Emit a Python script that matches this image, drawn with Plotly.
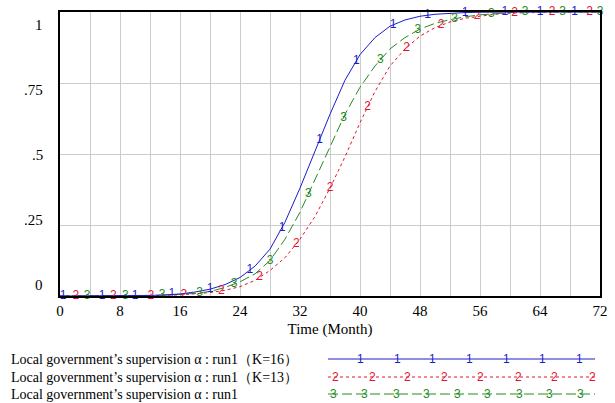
import numpy as np
import plotly.graph_objects as go

# ---------------- data ----------------
time = list(range(0, 73, 2))
k16 = [0, 0, 0, 0, 0.001, 0.001, 0.002, 0.004, 0.007, 0.014, 0.024, 0.04, 0.065, 0.105,
       0.165, 0.26, 0.38, 0.51, 0.64, 0.76, 0.85, 0.91, 0.95, 0.972, 0.985, 0.992, 0.996,
       0.998, 0.999, 1, 1, 1, 1, 1, 1, 1, 1]
k13 = [0, 0, 0, 0, 0, 0, 0, 0.002, 0.004, 0.007, 0.012, 0.02, 0.033, 0.055, 0.09, 0.135,
       0.20, 0.28, 0.38, 0.49, 0.61, 0.72, 0.81, 0.87, 0.915, 0.945, 0.965, 0.978, 0.986,
       0.992, 0.996, 0.998, 1, 1, 1, 1, 1]
base = [0, 0, 0, 0, 0.001, 0.001, 0.002, 0.003, 0.005, 0.009, 0.016, 0.03, 0.05, 0.078,
        0.125, 0.20, 0.295, 0.41, 0.525, 0.64, 0.735, 0.81, 0.87, 0.91, 0.94, 0.96, 0.973,
        0.983, 0.99, 0.995, 0.998, 1, 1, 1, 1, 1, 1]

series_names = ["Local government’s supervision α : run1（K=16）",
                "Local government’s supervision α : run1（K=13）",
                "Local government’s supervision α : run1"]
series_ids = ["1", "2", "3"]

# times along each curve where the run number is printed
mark_t1 = [0.4, 5.6, 10, 14.9, 20, 25.3, 29.6, 34.6, 39.5, 44.4, 49, 54, 59.3, 64, 68.6]
mark_t2 = [2.1, 7.1, 12.1, 16.5, 21.5, 26.6, 31.5, 36, 41, 46.2, 50.8, 55.6, 60.6, 65.6, 70.6]
mark_t3 = [3.6, 8.7, 13.6, 18.6, 23.2, 28, 33.1, 37.8, 42.7, 47.7, 52.6, 57.5, 62, 67, 72]

x_grid_ticks = list(range(0, 73, 4))
x_tick_text = [str(v) if v % 8 == 0 else "" for v in x_grid_ticks]
y_ticks = [0, 0.25, 0.5, 0.75, 1]
y_tick_text = ["0", ".25", ".5", ".75", "1"]

# ---------------- style ----------------
colors = ["#1c1ccc", "#e3122e", "#238c23"]
dashes = ["solid", "3px,3px", "10px,4px"]
serif = "Liberation Serif, Times New Roman, serif"
sans = "Liberation Sans, Arial, sans-serif"

fig = go.Figure()
all_series = [k16, k13, base]
all_marks = [mark_t1, mark_t2, mark_t3]

for idx in [1, 2, 0]:
    fig.add_trace(go.Scatter(x=time, y=all_series[idx], mode="lines",
                             line=dict(color=colors[idx], width=1, dash=dashes[idx]),
                             name=series_names[idx], hoverinfo="skip"))
for idx in [1, 2, 0]:
    mt = all_marks[idx]
    fig.add_trace(go.Scatter(x=mt, y=np.interp(mt, time, all_series[idx]), mode="text",
                             text=[series_ids[idx]] * len(mt), textposition="middle center",
                             textfont=dict(family=sans, size=12, color=colors[idx]),
                             cliponaxis=False, showlegend=False, hoverinfo="skip"))

L, R, T, B = 60, 7, 12, 107
W, H = 615, 403
pw, ph = W - L - R, H - T - B

def px_x(p):
    return (p - L) / pw

def px_y(p):
    return (H - B - p) / ph

annotations = []
for v, txt in zip(y_ticks, y_tick_text):
    annotations.append(dict(x=0, xref="paper", y=v, yref="y", text=txt, showarrow=False,
                            xanchor="right", xshift=-15, yshift=11 - 24 * v,
                            font=dict(family=serif, size=15, color="black")))

shapes = []
row_y = [359, 377, 394]
legend_num_px = [
    [365, 402, 438, 476, 513, 550, 587],
    [340, 377, 413, 450, 487, 525, 562, 600],
    [338, 369, 401, 432, 463, 494, 526, 557, 588],
]
for i in range(3):
    annotations.append(dict(x=px_x(8), xref="paper", y=px_y(row_y[i]), yref="paper",
                            text=series_names[i], showarrow=False, xanchor="left",
                            yanchor="middle", font=dict(family=serif, size=14, color="black")))
    shapes.append(dict(type="line", xref="paper", yref="paper", x0=px_x(332), x1=px_x(603),
                       y0=px_y(row_y[i]), y1=px_y(row_y[i]),
                       line=dict(color=colors[i], width=1, dash=dashes[i])))
    for p in legend_num_px[i]:
        annotations.append(dict(x=px_x(p), xref="paper", y=px_y(row_y[i]), yref="paper",
                                text=series_ids[i], showarrow=False, xanchor="center",
                                yanchor="middle",
                                font=dict(family=sans, size=12, color=colors[i])))

fig.update_layout(
    width=W, height=H,
    margin=dict(l=L, r=R, t=T, b=B, pad=0),
    paper_bgcolor="white", plot_bgcolor="white",
    showlegend=False,
    annotations=annotations, shapes=shapes,
    xaxis=dict(range=[0, 72], tickvals=x_grid_ticks, ticktext=x_tick_text,
               showgrid=True, gridcolor="#cccccc", gridwidth=1, zeroline=False,
               showline=True, linecolor="black", linewidth=2, mirror=True, ticks="",
               tickfont=dict(family=serif, size=15, color="black"),
               title=dict(text="Time (Month)", standoff=5,
                          font=dict(family=serif, size=15, color="black"))),
    yaxis=dict(range=[0, 1], tickvals=y_ticks, showticklabels=False,
               showgrid=True, gridcolor="#cccccc", gridwidth=1, zeroline=False,
               showline=True, linecolor="black", linewidth=2, mirror=True, ticks=""),
)

fig.write_html("out.html", config={"displayModeBar": False},
               post_script="document.body.style.margin='0';document.body.style.overflow='hidden';")
